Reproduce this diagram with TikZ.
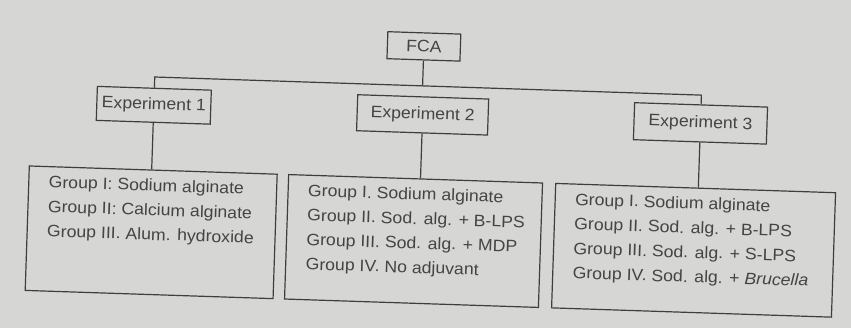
\documentclass[tikz,border=0pt]{standalone}
\usepackage{fontspec}
\setmainfont{Liberation Sans}[FakeStretch=1.07]
\definecolor{bgscan}{RGB}{214,214,212}
\definecolor{inkline}{RGB}{62,62,62}
\definecolor{inktext}{RGB}{68,68,68}
\newcommand\grouplines[2]{\begin{minipage}[c][124.5pt][t]{#1}\raggedright\vspace*{9pt}#2\end{minipage}}
\begin{document}
\begin{tikzpicture}[x=1pt,y=1pt,
  ln/.style={draw=inkline, line width=1.2pt},
  expbox/.style={ln, rectangle, inner sep=0pt, text=inktext, font=\fontsize{16.5}{20}\selectfont},
  grpbox/.style={ln, rectangle, inner xsep=20pt, inner ysep=0pt, anchor=north west, text=inktext, font=\fontsize{16.5}{24.5}\selectfont}]
\fill[bgscan] (-425,-164) rectangle (426,164);
\useasboundingbox (-425,-164) rectangle (426,164);
\begin{scope}[rotate=-1.9, transform shape]
\node[expbox, minimum width=73pt, minimum height=27pt] (fca) at (-5,117.5) {FCA};
\node[expbox, minimum width=114pt, minimum height=34pt] (e1) at (-273,49.7) {Experiment 1};
\node[expbox, minimum width=131pt, minimum height=36pt] (e2) at (-4,49) {Experiment 2};
\node[expbox, minimum width=133pt, minimum height=37pt] (e3) at (274,49.7) {Experiment 3};
\node[grpbox] (g1) at (-396,-14.5) {\grouplines{208pt}{\mbox{Group I: Sodium alginate}\\\mbox{Group II: Calcium alginate}\\\mbox{Group III. Alum. hydroxide}}};
\node[grpbox] (g2) at (-136.5,-14.5) {\grouplines{214pt}{\mbox{Group I. Sodium alginate}\\\mbox{Group II. Sod. alg. + B-LPS}\\\mbox{Group III. Sod. alg. + MDP}\\\mbox{Group IV. No adjuvant}}};
\node[grpbox] (g3) at (130.7,-14.5) {\grouplines{240pt}{\mbox{Group I. Sodium alginate}\\\mbox{Group II. Sod. alg. + B-LPS}\\\mbox{Group III. Sod. alg. + S-LPS}\\\mbox{Group IV. Sod. alg. + \textit{Brucella}}}};
\coordinate (b1) at (-273,78);
\coordinate (b2) at (-5,78);
\coordinate (b3) at (274,78);
\coordinate (t1) at (-273,-14.5);
\coordinate (t2) at (-4,-14.5);
\coordinate (t3) at (274,-14.5);
\draw[ln] (e1.north) -- (b1) -- (b3) -- (e3.north);
\draw[ln] (fca.south) -- (b2);
\draw[ln] (e1.south) -- (t1);
\draw[ln] (e2.south) -- (t2);
\draw[ln] (e3.south) -- (t3);
\end{scope}
\end{tikzpicture}
\end{document}
